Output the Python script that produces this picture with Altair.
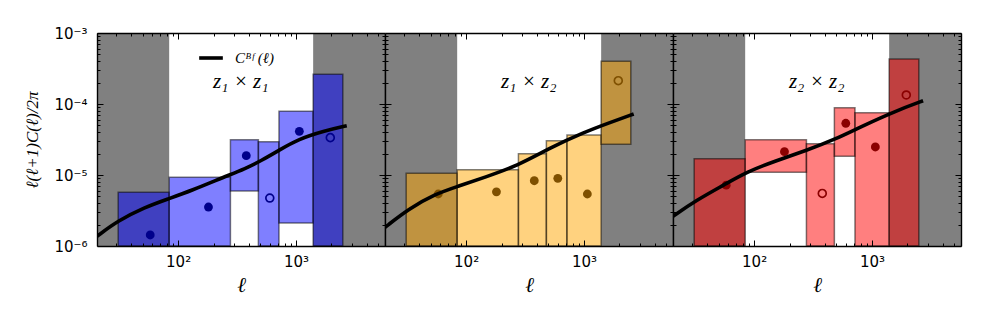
import altair as alt
import pandas as pd

# ---------------- data ----------------
XMIN, XMAX = 20.5, 5700
YMIN, YMAX = 1e-6, 1e-3

panel_labels = ["z₁ × z₁", "z₁ × z₂", "z₂ × z₂"]
box_colors = ["#0000ff", "#ffa500", "#ff0000"]
point_colors = ["#00008b", "#7f5000", "#8b0000"]

# multipole bins (shared by the three panels)
bin_lo = [31, 84, 278, 480, 718, 1400]
bin_hi = [84, 278, 480, 718, 1400, 2500]
ell_mid = [58, 181, 379, 600, 1069, 1957]
# range of multipoles used (white), outside is masked (grey)
used_lo, used_hi = 84, 1400

# z1 x z1
top_11 = [5.7e-6, 9.3e-6, 3.14e-5, 2.94e-5, 7.9e-5, 2.62e-4]
bot_11 = [1e-6, 1e-6, 5.96e-6, 1e-6, 2.1e-6, 1e-6]
cl_11 = [1.43e-6, 3.54e-6, 1.87e-5, 4.74e-6, 4.12e-5, 3.36e-5]
hollow_11 = [False, False, False, True, False, True]
bf_ell_11 = [20.5, 30.9, 52, 82, 129, 249, 368, 511, 709, 1048, 1764, 2700]
bf_11 = [1.37e-6, 2.27e-6, 3.51e-6, 4.6e-6, 6.0e-6, 9.46e-6, 1.22e-5, 1.6e-5,
         2.2e-5, 3.2e-5, 4.2e-5, 4.94e-5]

# z1 x z2
top_12 = [1.06e-5, 1.19e-5, 2.0e-5, 3.04e-5, 3.66e-5, 3.99e-4]
bot_12 = [1e-6, 1e-6, 1e-6, 1e-6, 1e-6, 2.7e-5]
cl_12 = [5.4e-6, 5.8e-6, 8.3e-6, 8.97e-6, 5.4e-6, 2.13e-4]
hollow_12 = [False, False, False, False, False, True]
bf_ell_12 = [20.5, 32.5, 54.6, 85.8, 144, 274, 525, 1000, 1680, 2645]
bf_12 = [1.83e-6, 3.32e-6, 5.4e-6, 6.93e-6, 9.3e-6, 1.35e-5, 2.45e-5, 3.99e-5,
         5.52e-5, 7.22e-5]

# z2 x z2
top_22 = [1.7e-5, 3.14e-5, 2.76e-5, 8.87e-5, 7.55e-5, 4.3e-4]
bot_22 = [1e-6, 1.09e-5, 1e-6, 1.83e-5, 1e-6, 1e-6]
cl_22 = [7.2e-6, 2.13e-5, 5.5e-6, 5.35e-5, 2.48e-5, 1.34e-4]
hollow_22 = [False, False, True, False, False, True]
bf_ell_22 = [20.5, 31.8, 57.3, 85, 153, 275, 480, 838, 1611, 2717]
bf_22 = [2.62e-6, 4.35e-6, 7.46e-6, 1.09e-5, 1.59e-5, 2.2e-5, 3.14e-5, 4.94e-5,
         8.05e-5, 1.11e-4]

label_ell, label_cl = 340, 2.05e-4

x_major = [100, 1000]
x_minor = [30, 40, 50, 60, 70, 80, 90, 200, 300, 400, 500, 600, 700, 800, 900,
           2000, 3000, 4000, 5000]
y_major = [1e-6, 1e-5, 1e-4, 1e-3]
y_minor = [m * d for d in (1e-6, 1e-5, 1e-4) for m in range(2, 10)]

# ---------------- chart ----------------
W, H = 288, 213
xs = alt.Scale(type="log", domain=[XMIN, XMAX], nice=False)
ys = alt.Scale(type="log", domain=[YMIN, YMAX], nice=False)

SUP = ("replace(replace(replace(replace(replace(replace(replace("
       "toString(round(log(datum.value)/LN10)),'-','⁻'),'1','¹'),'2','²'),"
       "'3','³'),'4','⁴'),'5','⁵'),'6','⁶')")
LABEL_EXPR = "'10' + " + SUP

common = dict(grid=False, zindex=2, tickColor="black", tickWidth=1,
              domainColor="black", domainWidth=1.4)


def make_panel(k, top, bot, cl, hollow, bf_ell, bf_val, first):
    mask = pd.DataFrame({"x0": [XMIN, used_hi], "x1": [used_lo, XMAX],
                         "y0": [YMIN, YMIN], "y1": [YMAX, YMAX]})
    bins = pd.DataFrame({"x0": bin_lo, "x1": bin_hi, "y0": bot, "y1": top})
    pts = pd.DataFrame({"ell": ell_mid, "cl": cl, "hollow": hollow})
    bf = pd.DataFrame({"ell": bf_ell, "cl": bf_val})
    bf["series"] = "Cᴮᶠ (ℓ)"
    lab = pd.DataFrame({"ell": [label_ell], "cl": [label_cl], "label": [panel_labels[k]]})

    def X(f, axis=None):
        return alt.X(f, type="quantitative", scale=xs, axis=axis)

    def Y(f, axis=None):
        return alt.Y(f, type="quantitative", scale=ys, axis=axis)

    grey = alt.Chart(mask).mark_rect(color="#808080", clip=True).encode(
        x=X("x0"), x2="x1", y=Y("y0"), y2="y1")
    boxes = alt.Chart(bins).mark_rect(
        fill=box_colors[k], fillOpacity=0.5, stroke="black", strokeOpacity=0.5,
        strokeWidth=1.5, clip=True).encode(x=X("x0"), x2="x1", y=Y("y0"), y2="y1")
    filled = alt.Chart(pts).transform_filter("!datum.hollow").mark_point(
        filled=True, size=78, opacity=1, color=point_colors[k], clip=True
    ).encode(x=X("ell"), y=Y("cl"))
    open_ = alt.Chart(pts).transform_filter("datum.hollow").mark_point(
        filled=False, size=62, strokeWidth=1.7, opacity=1, color=point_colors[k], clip=True
    ).encode(x=X("ell"), y=Y("cl"))
    line_mark = alt.Chart(bf).mark_line(strokeWidth=3.6, interpolate="basis", clip=True)
    if first:
        line = line_mark.encode(
            x=X("ell"), y=Y("cl"),
            color=alt.Color("series:N", scale=alt.Scale(range=["black"]),
                            legend=alt.Legend(orient="none", legendX=100, legendY=11,
                                              title=None, symbolType="stroke",
                                              symbolStrokeWidth=3.6, symbolSize=560,
                                              labelFont="Liberation Serif",
                                              labelFontStyle="italic",
                                              labelFontSize=15, labelColor="black",
                                              labelOffset=10)))
    else:
        line = line_mark.encode(x=X("ell"), y=Y("cl"), color=alt.value("black"))
    text = alt.Chart(lab).mark_text(font="Liberation Serif", fontStyle="italic",
                                    fontSize=21, color="black").encode(
        x=X("ell"), y=Y("cl"), text="label:N")

    def ax_layer(channel, **kw):
        axis = alt.Axis(**common, **kw)
        base = alt.Chart(mask).mark_point(opacity=0)
        if channel == "x":
            return base.encode(x=X("x0", axis), y=Y("y0"))
        return base.encode(x=X("x0"), y=Y("y0", axis))

    axes = [
        ax_layer("x", orient="bottom", values=x_major, labelExpr=LABEL_EXPR,
                 ticks=False, domain=True, labelFont="DejaVu Sans", labelFontSize=15,
                 labelColor="black", labelPadding=8, title="ℓ",
                 titleFont="Liberation Serif", titleFontStyle="italic",
                 titleFontWeight="normal", titleFontSize=21, titleColor="black",
                 titlePadding=5),
        ax_layer("x", orient="bottom", values=x_major, ticks=True, tickSize=6, offset=-6,
                 labels=False, domain=False, title=None),
        ax_layer("x", orient="bottom", values=x_minor, ticks=True, tickSize=3, offset=-3,
                 labels=False, domain=False, title=None),
        ax_layer("x", orient="top", values=x_major, ticks=False, labels=False,
                 domain=True, title=None),
        ax_layer("x", orient="top", values=x_major, ticks=True, tickSize=6, offset=-6,
                 labels=False, domain=False, title=None),
        ax_layer("x", orient="top", values=x_minor, ticks=True, tickSize=3, offset=-3,
                 labels=False, domain=False, title=None),
        ax_layer("y", orient="left", values=y_major, ticks=True, tickSize=6, offset=-6,
                 labels=False, domain=False, title=None),
        ax_layer("y", orient="left", values=y_minor, ticks=True, tickSize=3, offset=-3,
                 labels=False, domain=False, title=None),
        ax_layer("y", orient="right", values=y_major, ticks=False, labels=False,
                 domain=True, title=None),
        ax_layer("y", orient="right", values=y_major, ticks=True, tickSize=6, offset=-6,
                 labels=False, domain=False, title=None),
        ax_layer("y", orient="right", values=y_minor, ticks=True, tickSize=3, offset=-3,
                 labels=False, domain=False, title=None),
    ]
    if first:
        axes.append(ax_layer("y", orient="left", values=y_major, labelExpr=LABEL_EXPR,
                             ticks=False, domain=True, labelFont="DejaVu Sans",
                             labelFontSize=15, labelColor="black", labelPadding=10,
                             labelBaseline="middle",
                             title="ℓ(ℓ+1)C(ℓ)/2π", titleFont="Liberation Serif",
                             titleFontStyle="italic", titleFontWeight="normal",
                             titleFontSize=17, titleColor="black", titlePadding=12))
    else:
        axes.append(ax_layer("y", orient="left", values=y_major, ticks=False,
                             labels=False, domain=True, title=None))

    return alt.layer(grey, boxes, filled, open_, line, text, *axes).resolve_axis(
        x="independent", y="independent").properties(width=W, height=H)


p1 = make_panel(0, top_11, bot_11, cl_11, hollow_11, bf_ell_11, bf_11, True)
p2 = make_panel(1, top_12, bot_12, cl_12, hollow_12, bf_ell_12, bf_12, False)
p3 = make_panel(2, top_22, bot_22, cl_22, hollow_22, bf_ell_22, bf_22, False)

chart = alt.hconcat(p1, p2, p3, spacing=0, bounds="flush").resolve_scale(
    color="independent").resolve_legend(color="independent").properties(
    padding={"left": 15, "top": 18, "right": 5, "bottom": 5}
).configure_view(stroke=None)

chart.save("out.html", embed_options={"renderer": "svg", "actions": False})
